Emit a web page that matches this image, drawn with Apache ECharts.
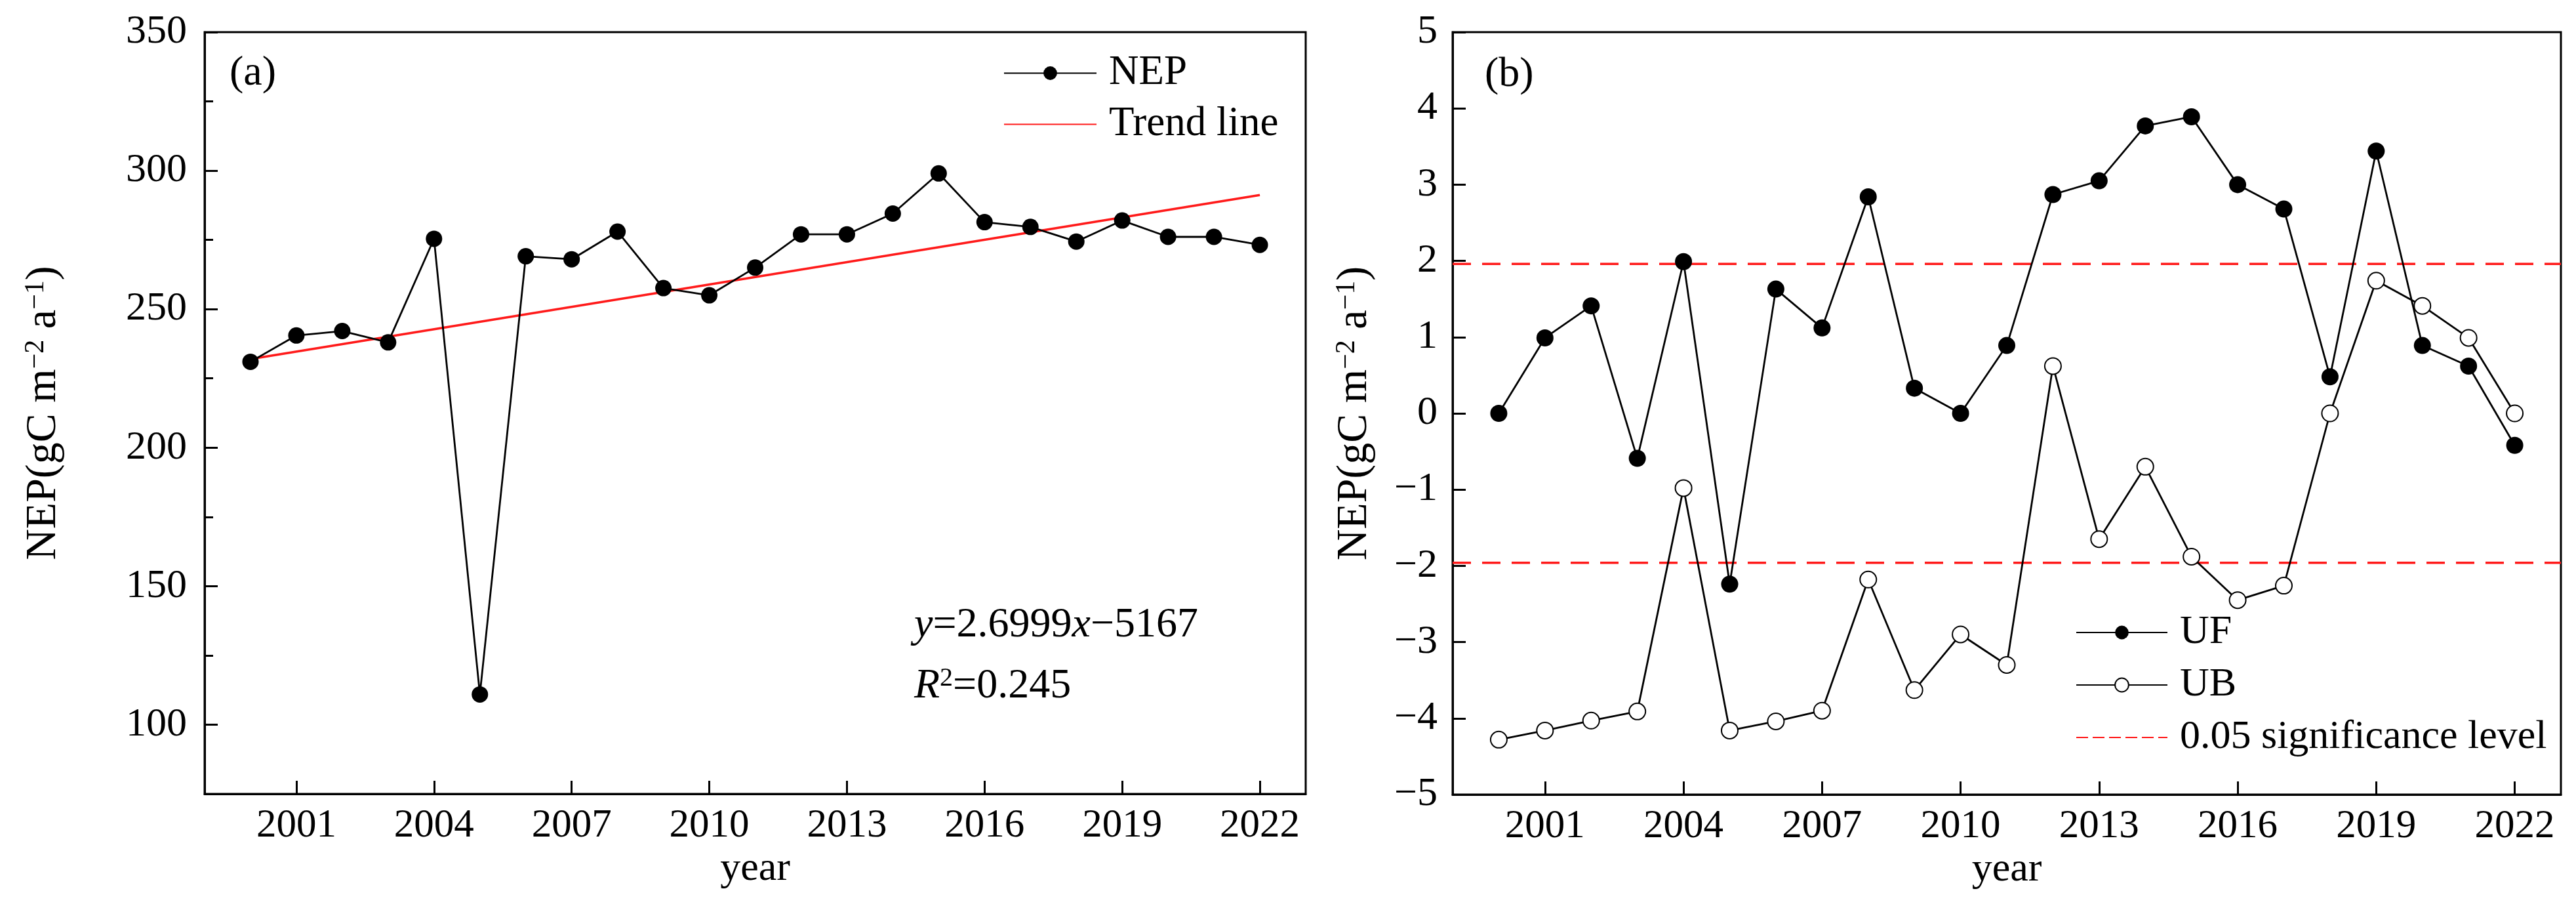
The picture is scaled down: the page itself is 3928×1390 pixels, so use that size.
<!DOCTYPE html>
<html><head><meta charset="utf-8">
<script src="https://cdn.jsdelivr.net/npm/echarts@6/dist/echarts.min.js"></script>
<style>html,body{margin:0;padding:0;background:#fff}#c{width:3928px;height:1390px}</style>
</head><body><div id="c"></div>
<script>
const years = [2000,2001,2002,2003,2004,2005,2006,2007,2008,2009,2010,2011,2012,2013,2014,2015,2016,2017,2018,2019,2020,2021,2022];
const nepValues = [231.0,240.5,242.1,238.0,275.4,110.9,269.1,268.0,278.0,257.6,255.0,265.0,277.0,277.0,284.5,299.0,281.4,279.7,274.4,282.0,276.1,276.1,273.2];
const trendYears = [2000, 2022];
const trendValues = [232.0, 291.2];
const ufValues = [0,0.99,1.41,-0.59,1.99,-2.24,1.63,1.12,2.84,0.33,0,0.89,2.87,3.05,3.77,3.89,3.0,2.68,0.48,3.44,0.89,0.62,-0.42];
const ubValues = [-4.28,-4.16,-4.03,-3.91,-0.98,-4.16,-4.04,-3.9,-2.18,-3.63,-2.9,-3.3,0.62,-1.65,-0.70,-1.88,-2.45,-2.26,0,1.74,1.41,0.99,0];
const sigLevels = [1.96, -1.96];
const xRange = [1999, 2023];
const xTickLabels = [2001,2004,2007,2010,2013,2016,2019,2022];
const yRangeA = [75, 350];
const yTicksA = [100,150,200,250,300,350];
const yMinorTicksA = [125,175,225,275,325];
const yRangeB = [-5, 5];

const FONT = "'Liberation Serif','Times New Roman',serif";
const black = '#000';
const red = '#ff1a1a';

const titleRich = {
  t: {fontSize: 66, fontFamily: FONT, color: black},
  s: {fontSize: 42, fontFamily: FONT, color: black, verticalAlign: 'top'}
};
const yTitle = '{t|NEP(gC m}{s|−2}{t| a}{s|−1}{t|)}';

function xAxisCfg(grid) {
  return {
    type: 'value', gridIndex: grid, min: xRange[0], max: xRange[1],
    axisLine: {show: true, onZero: false, lineStyle: {color: black, width: 3}},
    axisTick: {show: true, inside: true, length: 20, lineStyle: {color: black, width: 3}, customValues: xTickLabels},
    axisLabel: {show: true, customValues: xTickLabels, fontSize: 61, fontFamily: FONT, color: black, margin: 18,
      formatter: v => String(v)},
    splitLine: {show: false},
    name: 'year', nameLocation: 'middle', nameGap: 84,
    nameTextStyle: {fontSize: 62, fontFamily: FONT, color: black}
  };
}

const option = {
  animation: false,
  backgroundColor: '#fff',
  grid: [
    {left: 312, top: 49, width: 1679, height: 1161, show: true, borderColor: black, borderWidth: 3, outerBoundsMode: 'none'},
    {left: 2215, top: 49, width: 1690, height: 1162, show: true, borderColor: black, borderWidth: 3, outerBoundsMode: 'none'}
  ],
  xAxis: [xAxisCfg(0), xAxisCfg(1)],
  yAxis: [
    {
      type: 'value', gridIndex: 0, position: 'left', min: yRangeA[0], max: yRangeA[1],
      axisLine: {show: true, onZero: false, lineStyle: {color: black, width: 3}},
      axisTick: {show: true, inside: true, length: 20, lineStyle: {color: black, width: 3}, customValues: yTicksA},
      axisLabel: {show: true, customValues: yTicksA, fontSize: 62, fontFamily: FONT, color: black, margin: 27,
        formatter: v => String(v)},
      splitLine: {show: false},
      name: yTitle, nameLocation: 'middle', nameGap: 212, nameRotate: 90,
      nameTextStyle: {rich: titleRich}
    },
    {
      type: 'value', gridIndex: 0, position: 'left', min: yRangeA[0], max: yRangeA[1],
      axisLine: {show: false},
      axisTick: {show: true, inside: true, length: 13, lineStyle: {color: black, width: 3}, customValues: yMinorTicksA},
      axisLabel: {show: false},
      splitLine: {show: false}
    },
    {
      type: 'value', gridIndex: 1, position: 'left', min: yRangeB[0], max: yRangeB[1], interval: 1,
      axisLine: {show: true, onZero: false, lineStyle: {color: black, width: 3}},
      axisTick: {show: true, inside: true, length: 20, lineStyle: {color: black, width: 3}},
      axisLabel: {show: true, fontSize: 62, fontFamily: FONT, color: black, margin: 23,
        formatter: v => v < 0 ? '−' + Math.abs(v) : String(v)},
      splitLine: {show: false},
      name: yTitle, nameLocation: 'middle', nameGap: 116, nameRotate: 90,
      nameTextStyle: {rich: titleRich}
    }
  ],
  legend: [
    {
      orient: 'vertical', left: 1530, top: 80, padding: 0, itemWidth: 141, itemHeight: 26, itemGap: 15,
      data: ['NEP', {name: 'Trend line', itemStyle: {opacity: 0}}],
      textStyle: {fontSize: 63, fontFamily: FONT, color: black, padding: [0, 0, 0, 14]}
    },
    {
      orient: 'vertical', left: 3165, top: 933, padding: 0, itemWidth: 139, itemHeight: 26, itemGap: 18,
      data: ['UF', 'UB', {name: '0.05 significance level', itemStyle: {opacity: 0}, lineStyle: {type: [18, 7]}}],
      textStyle: {fontSize: 62, fontFamily: FONT, color: black, padding: [0, 0, 0, 14]}
    }
  ],
  graphic: [
    {type: 'text', left: 350, top: 80, style: {text: '(a)', fontSize: 64, fontFamily: FONT, fill: black}},
    {type: 'text', left: 2264, top: 82, style: {text: '(b)', fontSize: 64, fontFamily: FONT, fill: black}},
    {type: 'text', left: 1394, top: 921, style: {
      text: '{i|y}{n|=2.6999}{i|x}{n|−5167}',
      rich: {i: {fontSize: 64, fontFamily: FONT, fontStyle: 'italic', fill: black}, n: {fontSize: 64, fontFamily: FONT, fill: black}}
    }},
    {type: 'text', left: 1394, top: 1014, style: {
      text: '{i|R}{s|2}{n|=0.245}',
      rich: {i: {fontSize: 64, fontFamily: FONT, fontStyle: 'italic', fill: black}, s: {fontSize: 40, fontFamily: FONT, fill: black, verticalAlign: 'top'}, n: {fontSize: 64, fontFamily: FONT, fill: black}}
    }}
  ],
  series: [
    {
      name: 'Trend line', type: 'line', xAxisIndex: 0, yAxisIndex: 0, symbol: 'none', z: 2,
      data: trendYears.map((y, i) => [y, trendValues[i]]),
      lineStyle: {color: red, width: 3.5}, itemStyle: {color: red}
    },
    {
      name: 'NEP', type: 'line', xAxisIndex: 0, yAxisIndex: 0, symbol: 'circle', symbolSize: 25, z: 3,
      data: years.map((y, i) => [y, nepValues[i]]),
      lineStyle: {color: black, width: 2.8}, itemStyle: {color: black}
    },
    {
      name: '0.05 significance level', type: 'line', xAxisIndex: 1, yAxisIndex: 2, symbol: 'none', z: 2,
      data: xRange.map(x => [x, sigLevels[0]]),
      lineStyle: {color: red, width: 3.5, type: [28, 17]}, itemStyle: {color: red}
    },
    {
      name: '0.05 significance level', type: 'line', xAxisIndex: 1, yAxisIndex: 2, symbol: 'none', z: 2,
      data: xRange.map(x => [x, sigLevels[1]]),
      lineStyle: {color: red, width: 3.5, type: [28, 17]}, itemStyle: {color: red}
    },
    {
      name: 'UF', type: 'line', xAxisIndex: 1, yAxisIndex: 2, symbol: 'circle', symbolSize: 26, z: 4,
      data: years.map((y, i) => [y, ufValues[i]]),
      lineStyle: {color: black, width: 2.8}, itemStyle: {color: black}
    },
    {
      name: 'UB', type: 'line', xAxisIndex: 1, yAxisIndex: 2, symbol: 'emptyCircle', symbolSize: 25, z: 3,
      data: years.map((y, i) => [y, ubValues[i]]),
      lineStyle: {color: black, width: 2.8}, itemStyle: {color: black, borderColor: black, borderWidth: 2}
    }
  ]
};
const chart = echarts.init(document.getElementById('c'));
chart.setOption(option);
</script>
</body></html>
